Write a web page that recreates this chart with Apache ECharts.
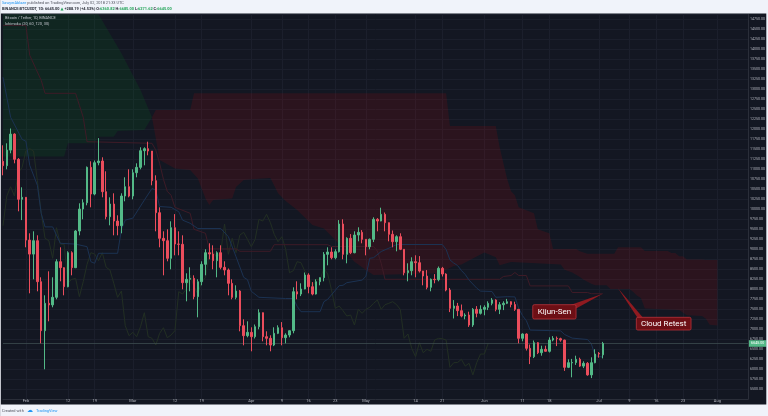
<!DOCTYPE html>
<html><head><meta charset="utf-8">
<script src="https://cdn.jsdelivr.net/npm/echarts/dist/echarts.min.js"></script>
<style>html,body{margin:0;padding:0;background:#f0f3fa;}#chart{width:768px;height:416px;}</style>
</head><body><div id="chart"></div>
<script>
// ---------- data ----------
const startDate = '2018-01-26';
const axisDays = 196;
const opens = [
11200,11090,11480,11880,11250,10250,10300,9230,8880,9215,
8190,6965,7650,7610,7800,8690,8540,8065,8915,8540,
9457,10007,10165,11049,10382,11165,11207,10440,9815,10132,
9707,9590,10332,10565,10332,10915,11049,11465,11515,11457,
10715,9915,9274,9215,8774,9540,9132,9125,8165,8249,
8274,7816,8190,8624,8915,8882,8716,8915,8549,8482,
8149,7799,7957,7090,6840,6924,6815,7065,7415,6815,
6774,6607,6899,7040,6790,6857,6965,7940,7882,8007,
8357,8065,7882,8190,8290,8874,8932,8790,8940,9632,
8874,9274,8915,9357,9424,9249,9065,9249,9749,9707,
9874,9665,9374,9190,9315,9000,8415,8465,8690,8665,
8457,8332,8049,8249,8240,8524,8382,7982,7524,7582,
7465,7332,7357,7107,7499,7399,7499,7549,7649,7732,
7499,7615,7650,7690,7620,7499,6774,6882,6524,6315,
6665,6415,6499,6450,6732,6774,6765,6730,6049,6160,
6170,6250,6080,6150,5860,6165,6399,6361];
const highs = [
11600,11650,12020,11900,11280,10550,10300,9400,9450,9350,
8300,7850,8450,8300,8750,9050,8550,8950,8950,9480,
10150,10250,11070,11200,11220,11780,11300,10950,10300,10400,
9850,10400,10800,11000,11000,11150,11550,11550,11690,11457,
10850,10050,9450,9500,9700,9880,9450,9350,8400,8550,
8350,8250,8700,9000,9150,9100,8950,9100,8700,8520,
8250,8100,7980,7250,7200,7050,7120,7500,7420,6950,
6850,7050,7100,7180,6900,6970,8050,8200,8150,8420,
8400,8180,8250,8300,8930,9050,9050,9000,9730,9750,
9300,9380,9450,9550,9480,9250,9270,9800,9780,10040,
9920,9670,9470,9350,9400,9000,8650,8800,8850,8830,
8460,8480,8270,8380,8570,8560,8400,8030,7730,7660,
7620,7400,7440,7530,7580,7600,7600,7700,7780,7750,
7680,7700,7760,7700,7690,7500,6900,6900,6620,6720,
6680,6590,6590,6800,6830,6820,6790,6740,6250,6260,
6340,6290,6200,6180,6300,6500,6430,6685];
const lows = [
10850,11000,11400,11150,9950,9730,9050,7900,8250,7950,
6650,6000,7200,7550,7750,8200,7850,8050,8350,8530,
9350,9750,10100,10050,10350,11100,10300,9750,9600,9350,
9350,9400,10200,10300,10250,10800,11000,11100,11350,10600,
9450,9050,8350,8700,8500,8850,8850,8000,7700,7950,
7750,7300,8100,8350,8750,8500,8300,8500,8350,7850,
7750,7750,6950,6600,6800,6450,6770,7000,6700,6600,
6450,6580,6880,6600,6650,6800,6900,7750,7830,8000,
7900,7850,7870,8100,8200,8600,8750,8750,8920,8750,
8650,8880,8900,9200,9150,8850,9000,9180,9450,9700,
9450,9200,9050,8950,8980,8350,8200,8350,8300,8420,
8100,8000,7950,8150,8200,8320,7950,7430,7270,7330,
7300,7250,7060,7060,7300,7370,7350,7480,7600,7450,
7380,7480,7630,7550,7460,6650,6700,6470,6130,6280,
6380,6340,6440,6420,6700,6580,6690,5960,6030,5800,
6110,6060,6030,5840,5780,6150,6290,6272];
const closes = [
11090,11480,11880,11250,10250,10300,9230,8880,9215,8190,
6965,7650,7610,7800,8690,8540,8065,8915,8540,9457,
10007,10165,11049,10382,11165,11207,10440,9815,10132,9707,
9590,10332,10565,10332,10915,11049,11465,11515,11457,10715,
9915,9274,9215,8774,9540,9132,9125,8165,8249,8274,
7816,8190,8624,8915,8882,8716,8915,8549,8482,8149,
7799,7957,7090,6840,6924,6815,7065,7415,6815,6774,
6607,6899,7040,6790,6857,6965,7940,7882,8007,8357,
8065,7882,8190,8290,8874,8932,8790,8940,9632,8874,
9274,8915,9357,9424,9249,9065,9249,9749,9707,9874,
9665,9374,9190,9315,9000,8415,8465,8690,8665,8457,
8332,8049,8249,8240,8524,8382,7982,7524,7582,7465,
7332,7357,7107,7499,7399,7499,7549,7649,7732,7499,
7615,7650,7690,7620,7499,6774,6882,6524,6315,6665,
6415,6499,6450,6732,6774,6765,6730,6049,6165,6170,
6250,6080,6150,5860,6165,6382,6382,6645];

// Ichimoku (20, 60, 120, 30) lines
const tenkan = [['2018-01-26',13300],['2018-01-28',12300],['2018-01-31',11750],['2018-02-01',11700],['2018-02-02',11100],['2018-02-04',10600],['2018-02-05',9900],['2018-02-06',9560],['2018-02-08',9560],['2018-02-10',9150],['2018-02-14',9130],['2018-02-17',9065],['2018-02-18',8690],['2018-02-19',8650],['2018-02-20',8900],['2018-02-25',8900],['2018-02-26',9500],['2018-02-27',9730],['2018-03-01',9780],['2018-03-04',10230],['2018-03-06',10520],['2018-03-07',10480],['2018-03-08',10070],['2018-03-11',10050],['2018-03-13',9940],['2018-03-14',9730],['2018-03-16',9650],['2018-03-18',9520],['2018-03-24',9520],['2018-03-26',9315],['2018-03-28',8815],['2018-03-30',8300],['2018-03-31',8240],['2018-04-01',7950],['2018-04-03',7800],['2018-04-10',7770],['2018-04-12',7770],['2018-04-13',7575],['2018-04-14',7440],['2018-04-19',7440],['2018-04-20',7690],['2018-04-21',7750],['2018-04-24',8090],['2018-04-25',8100],['2018-04-26',8165],['2018-04-30',8230],['2018-05-01',8325],['2018-05-02',8775],['2018-05-03',8790],['2018-05-05',8945],['2018-05-08',9070],['2018-05-09',9120],['2018-05-21',9120],['2018-05-22',8995],['2018-05-23',8735],['2018-05-24',8655],['2018-05-25',8595],['2018-05-26',8470],['2018-05-27',8370],['2018-05-28',8230],['2018-05-30',8030],['2018-05-31',7955],['2018-06-03',7945],['2018-06-04',7800],['2018-06-07',7815],['2018-06-09',7810],['2018-06-10',7525],['2018-06-11',7340],['2018-06-12',7215],['2018-06-13',6980],['2018-06-21',6960],['2018-06-22',6870],['2018-06-24',6780],['2018-06-28',6745],['2018-06-29',6640],['2018-06-30',6340],['2018-07-02',6305]];
const kijun = [['2018-01-26',14600],['2018-02-01',14600],['2018-02-02',13850],['2018-02-05',13225],['2018-02-06',12900],['2018-02-14',12900],['2018-02-15',12600],['2018-02-16',12300],['2018-02-17',11690],['2018-03-06',11650],['2018-03-07',11480],['2018-03-08',11150],['2018-03-09',10750],['2018-03-10',10450],['2018-03-11',10350],['2018-03-12',10050],['2018-03-16',9900],['2018-03-17',9500],['2018-03-20',9400],['2018-03-21',9010],['2018-03-28',9010],['2018-03-29',8950],['2018-04-06',8950],['2018-04-07',9115],['2018-04-21',9115],['2018-04-22',9070],['2018-05-03',9070],['2018-05-04',8955],['2018-05-05',8650],['2018-05-06',8250],['2018-06-05',8250],['2018-06-06',8320],['2018-06-08',8345],['2018-06-09',8420],['2018-06-10',8345],['2018-06-12',8345],['2018-06-13',8085],['2018-06-23',8085],['2018-06-24',7920],['2018-06-28',7920],['2018-06-29',7890],['2018-07-02',7890]];
const spanA = [['2018-01-26',15300],['2018-02-20',14900],['2018-02-26',13900],['2018-03-03',12980],['2018-03-06',12300],['2018-03-08',11230],['2018-03-12',11020],['2018-03-16',10980],['2018-03-18',10770],['2018-03-20',10270],['2018-03-21',10110],['2018-03-22',10230],['2018-03-27',10270],['2018-03-28',10560],['2018-03-30',10730],['2018-04-02',10760],['2018-04-06',10780],['2018-04-08',10400],['2018-04-10',10210],['2018-04-13',9980],['2018-04-17',9610],['2018-04-20',9520],['2018-04-23',9230],['2018-04-28',8690],['2018-05-01',8480],['2018-05-03',8360],['2018-05-20',8400],['2018-05-24',8580],['2018-05-26',8620],['2018-06-01',8920],['2018-06-04',8800],['2018-06-05',8600],['2018-06-08',8685],['2018-06-21',8620],['2018-06-22',8490],['2018-06-24',8420],['2018-06-26',8310],['2018-06-27',8240],['2018-06-29',8140],['2018-06-30',8100],['2018-07-03',8100],['2018-07-04',8010],['2018-07-09',8010],['2018-07-10',7935],['2018-07-11',7840],['2018-07-12',7780],['2018-07-13',7520],['2018-07-22',7480],['2018-07-24',7350],['2018-07-28',7330],['2018-07-29',7265],['2018-07-30',7115],['2018-08-01',7098]];
const spanB = [['2018-01-26',11320],['2018-02-11',11320],['2018-02-12',11650],['2018-02-19',11650],['2018-02-20',11815],['2018-02-24',11815],['2018-02-25',11960],['2018-03-04',11980],['2018-03-06',12300],['2018-03-07',12480],['2018-03-16',12480],['2018-03-17',12900],['2018-05-22',12900],['2018-05-23',12080],['2018-06-04',12080],['2018-06-05',11560],['2018-06-06',11150],['2018-06-07',10750],['2018-06-08',10450],['2018-06-09',10350],['2018-06-10',10050],['2018-06-14',9900],['2018-06-15',9500],['2018-06-18',9400],['2018-06-19',9010],['2018-06-25',9010],['2018-06-26',8950],['2018-06-28',8890],['2018-07-05',8890],['2018-07-06',9050],['2018-07-12',9050],['2018-07-13',8955],['2018-07-19',8955],['2018-07-20',8910],['2018-07-21',8910],['2018-07-22',8825],['2018-07-23',8825],['2018-07-24',8745],['2018-07-28',8745],['2018-07-29',8735],['2018-08-01',8735]];
const cloudCross = '2018-03-06';
const laggingShift = 30;

const tickDates = ['2018-02-01','2018-02-12','2018-02-19','2018-03-01','2018-03-12','2018-03-19','2018-04-01','2018-04-09','2018-04-16','2018-04-23','2018-05-01','2018-05-14','2018-05-21','2018-06-01','2018-06-11','2018-06-18','2018-07-01','2018-07-09','2018-07-16','2018-07-23','2018-08-01'];
const monthNames = ['Jan','Feb','Mar','Apr','May','Jun','Jul','Aug','Sep','Oct','Nov','Dec'];
const priceMin = 5250, priceMax = 14875, priceStep = 250;

const kijunNote = {date:'2018-07-02', price:7890, text:'Kijun-Sen'};
const cloudNote = {date:'2018-07-06', price:8025, text:'Cloud Retest'};

const headerLine1 = '{b|SawyerAblaze} published on TradingView.com, July 02, 2018 21:33 UTC';
const headerLine2 = 'BINANCE:BTCUSDT, 1D: 6645.00 {g|▲} +288.19 (+4.53%) O:{g|6360.82} H:{g|6685.00} L:{g|6271.62} C:{g|6645.00}';
const legend1 = 'Bitcoin / Tether, 1D, BINANCE';
const legend2 = 'Ichimoku (20, 60, 120, 30)';

// ---------- build ----------
const dates = [];
{
  const t0 = Date.parse(startDate + 'T00:00:00Z');
  for (let i = 0; i < axisDays; i++) dates.push(new Date(t0 + i * 86400000).toISOString().slice(0, 10));
}
const tickSet = new Set(tickDates);
const candles = opens.map((o, i) => [o, closes[i], lows[i], highs[i]]);
const lagging = closes.slice(laggingShift).map((c, i) => [dates[i], c]);
const lastClose = closes[closes.length - 1];

const UP = '#53b987', DOWN = '#eb4d5c';
const FONT = 'Roboto, "DejaVu Sans", sans-serif';

const pieces = [
  {a: spanA.filter(p => p[0] <= cloudCross), b: spanB.filter(p => p[0] <= cloudCross), fill: 'rgba(0,140,30,0.13)'},
  {a: spanA.filter(p => p[0] >= cloudCross), b: spanB.filter(p => p[0] >= cloudCross), fill: 'rgba(255,0,0,0.1)'}
];

const chart = echarts.init(document.getElementById('chart'));
chart.setOption({
  animation: false,
  backgroundColor: '#131722',
  grid: {left: 3, right: 20, top: 14.3, bottom: 16.7, containLabel: false},
  xAxis: {
    type: 'category', data: dates, boundaryGap: false,
    axisLine: {show: true, lineStyle: {color: '#2a2e39'}},
    axisTick: {show: false},
    axisLabel: {
      interval: (i, v) => tickSet.has(v),
      formatter: v => { const m = +v.slice(5, 7), d = +v.slice(8, 10); return d === 1 ? monthNames[m - 1] : String(d); },
      color: '#b2b5be', fontSize: 4, fontFamily: FONT, margin: 2, verticalAlign: 'middle'
    },
    splitLine: {show: true, interval: (i, v) => tickSet.has(v), lineStyle: {color: '#1b1f2c', width: 1}}
  },
  yAxis: {
    type: 'value', position: 'right', min: priceMin, max: priceMax, interval: priceStep,
    axisLine: {show: true, lineStyle: {color: '#2a2e39'}},
    axisTick: {show: false},
    axisLabel: {color: '#b2b5be', fontSize: 3.6, fontFamily: FONT, margin: 2, showMinLabel: false, showMaxLabel: false,
      formatter: v => v.toFixed(2)},
    splitLine: {show: true, lineStyle: {color: '#1b1f2c', width: 1}}
  },
  series: [
    {
      type: 'custom', name: 'cloud', z: 1, silent: true,
      data: pieces.map((p, i) => [i, 10000]),
      renderItem: (params, api) => {
        const pc = pieces[params.dataIndex];
        const cs = params.coordSys;
        const toPt = p => {
          const c = api.coord([dates.indexOf(p[0]), p[1]]);
          return [c[0], Math.max(cs.y, Math.min(cs.y + cs.height, c[1]))];
        };
        const pts = pc.a.map(toPt).concat(pc.b.slice().reverse().map(toPt));
        return {type: 'polygon', shape: {points: pts}, style: {fill: pc.fill}, silent: true};
      }
    },
    {type: 'line', name: 'lagging', data: lagging, showSymbol: false, symbol: 'none', z: 2, silent: true,
      lineStyle: {color: '#222f23', width: 1}},
    {type: 'line', name: 'kijun', data: kijun, showSymbol: false, symbol: 'none', z: 3, silent: true,
      lineStyle: {color: '#3e1b27', width: 1}},
    {type: 'line', name: 'tenkan', data: tenkan, showSymbol: false, symbol: 'none', z: 3, silent: true,
      lineStyle: {color: '#1b3252', width: 1}},
    {
      type: 'candlestick', name: 'BTCUSDT', data: candles, barWidth: 2, clip: false, z: 5,
      itemStyle: {color: UP, color0: DOWN, borderColor: UP, borderColor0: DOWN, borderWidth: 1},
      markLine: {
        silent: true, symbol: ['none', 'none'], animation: false,
        data: [{yAxis: lastClose}],
        lineStyle: {color: '#3c4b4e', width: 0.8, type: 'solid'},
        label: {show: true, position: 'end', distance: 1, formatter: lastClose.toFixed(2),
          backgroundColor: UP, color: '#ffffff', fontSize: 3.6, fontFamily: FONT, padding: [1.3, 2.2]}
      }
    }
  ]
});

// ---------- annotations and page chrome ----------
const kp = chart.convertToPixel({gridIndex: 0}, [dates.indexOf(kijunNote.date), kijunNote.price]);
const cp = chart.convertToPixel({gridIndex: 0}, [dates.indexOf(cloudNote.date), cloudNote.price]);
const BOX = '#6d0f15', BOXLINE = '#b8343b', WEDGE = '#8f1a20';

const graphics = [
  {type: 'polygon', z: 60, shape: {points: [[kp[0], kp[1]], [kp[0] - 33, kp[1] + 11.5], [kp[0] - 28, kp[1] + 15.5]]}, style: {fill: WEDGE}},
  {type: 'rect', z: 61, shape: {x: kp[0] - 70, y: kp[1] + 11, width: 43.3, height: 14.3, r: 1.5}, style: {fill: BOX, stroke: BOXLINE, lineWidth: 0.8}},
  {type: 'text', z: 62, style: {x: kp[0] - 48.3, y: kp[1] + 18.2, text: kijunNote.text, fill: '#ffffff', font: '8px ' + FONT, align: 'center', verticalAlign: 'middle'}},
  {type: 'polygon', z: 60, shape: {points: [[cp[0], cp[1]], [cp[0] + 19.5, cp[1] + 29.5], [cp[0] + 25, cp[1] + 29.5]]}, style: {fill: WEDGE}},
  {type: 'rect', z: 61, shape: {x: cp[0] + 18.3, y: cp[1] + 29, width: 54.7, height: 12.7, r: 1.5}, style: {fill: BOX, stroke: BOXLINE, lineWidth: 0.8}},
  {type: 'text', z: 62, style: {x: cp[0] + 45.6, y: cp[1] + 35.4, text: cloudNote.text, fill: '#ffffff', font: '8px ' + FONT, align: 'center', verticalAlign: 'middle'}},

  {type: 'text', z: 90, style: {x: 5, y: 18, text: legend1, fill: '#c3c6ce', font: '3.9px ' + FONT, align: 'left', verticalAlign: 'middle'}},
  {type: 'text', z: 90, style: {x: 5, y: 24, text: legend2, fill: '#c3c6ce', font: '3.9px ' + FONT, align: 'left', verticalAlign: 'middle'}},

  {type: 'rect', z: 100, shape: {x: 0, y: 0, width: 768, height: 13.6}, style: {fill: '#f0f3fa'}},
  {type: 'rect', z: 100, shape: {x: 0, y: 404.4, width: 768, height: 11.6}, style: {fill: '#f0f3fa'}},
  {type: 'rect', z: 100, shape: {x: 766.3, y: 0, width: 1.7, height: 416}, style: {fill: '#f0f3fa'}},
  {type: 'rect', z: 100, shape: {x: 0, y: 0, width: 0.9, height: 416}, style: {fill: '#d6d9e0'}},
  {type: 'text', z: 101, style: {x: 2, y: 3.5, text: headerLine1, fill: '#50535e', font: '3.9px ' + FONT, align: 'left', verticalAlign: 'middle',
    rich: {b: {fill: '#2196f3', fontSize: 3.9, fontFamily: FONT}}}},
  {type: 'text', z: 101, style: {x: 2, y: 8.8, text: headerLine2, fill: '#2a2e39', font: 'bold 3.9px ' + FONT, align: 'left', verticalAlign: 'middle',
    rich: {g: {fill: '#26a65b', fontSize: 3.9, fontWeight: 'bold', fontFamily: FONT}}}},
  {type: 'text', z: 101, style: {x: 2, y: 410.6, text: 'Created with', fill: '#50535e', font: '3.9px ' + FONT, align: 'left', verticalAlign: 'middle'}},
  {type: 'text', z: 101, style: {x: 27, y: 410.4, text: '☁', fill: '#2196f3', font: '6px "DejaVu Sans"', align: 'left', verticalAlign: 'middle'}},
  {type: 'text', z: 101, style: {x: 36, y: 410.6, text: 'TradingView', fill: '#2196f3', font: '3.9px ' + FONT, align: 'left', verticalAlign: 'middle'}}
];
chart.setOption({graphic: graphics});
</script>
</body></html>
